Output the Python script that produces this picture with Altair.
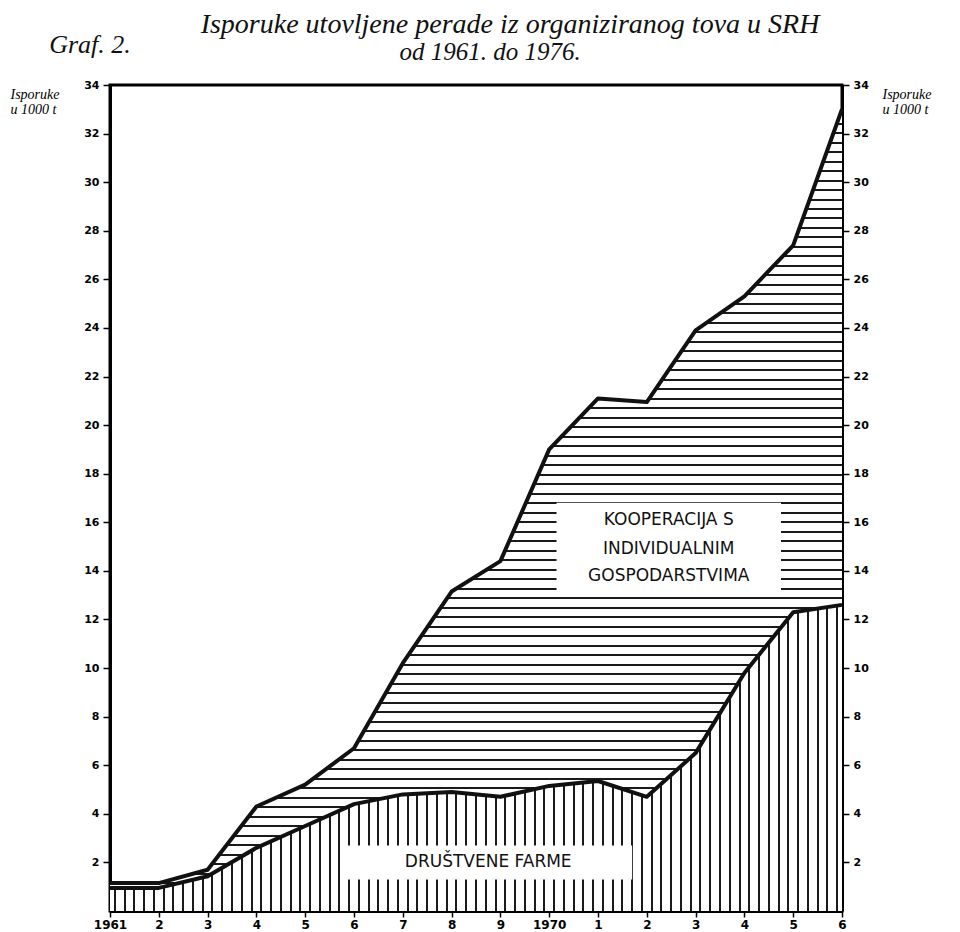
import altair as alt
import pandas as pd

# ---- data ----
years = list(range(1961, 1977))
ukupno = [1.15, 1.15, 1.7, 4.3, 5.2, 6.7, 10.2, 13.15, 14.4, 19.0, 21.1, 20.95, 23.9, 25.3, 27.4, 33.0]
drustvene_farme = [0.95, 0.95, 1.43, 2.6, 3.5, 4.4, 4.8, 4.9, 4.7, 5.15, 5.35, 4.7, 6.5, 9.8, 12.3, 12.6]

y_ticks = list(range(2, 35, 2))

title_lines = ["Isporuke utovljene perade iz organiziranog tova u SRH", "od 1961. do 1976."]
graf_label = "Graf. 2."
y_title = ["Isporuke", "u 1000 t"]

# annotation labels (placed in data units)
koop_lines = ["KOOPERACIJA  S", "INDIVIDUALNIM", "GOSPODARSTVIMA"]
koop_x = [1972.45, 1972.45, 1972.45]
koop_y = [16.1, 14.9, 13.8]
koop_box = dict(x0=1970.15, x1=1974.75, y0=13.2, y1=16.8)

farme_label = "DRUŠTVENE      FARME"
farme_x = 1968.75
farme_y = 2.0
farme_box = dict(x0=1965.8, x1=1971.7, y0=1.3, y1=2.7)

df = pd.DataFrame({"godina": years, "ukupno": ukupno, "farme": drustvene_farme})
box_df = pd.DataFrame([koop_box, farme_box])
koop_df = pd.DataFrame({"x": koop_x, "y": koop_y, "t": koop_lines})
farme_df = pd.DataFrame({"x": [farme_x], "y": [farme_y], "t": [farme_label]})


def stripes(n, frac, along_x):
    stops = [alt.GradientStop(offset=0, color="white")]
    for i in range(n):
        c = (i + 0.5) / n
        a, b = c - frac / 2, c + frac / 2
        stops += [
            alt.GradientStop(offset=round(a, 5), color="white"),
            alt.GradientStop(offset=round(a, 5), color="#1a1a1a"),
            alt.GradientStop(offset=round(b, 5), color="#1a1a1a"),
            alt.GradientStop(offset=round(b, 5), color="white"),
        ]
    stops.append(alt.GradientStop(offset=1, color="white"))
    if along_x:
        return alt.LinearGradient(gradient="linear", stops=stops, x1=0, y1=0, x2=1, y2=0)
    return alt.LinearGradient(gradient="linear", stops=stops, x1=0, y1=0, x2=0, y2=1)


vert_hatch = stripes(75, 2.0 / 732, True)
horiz_hatch = stripes(82, 2.0 / 779, False)

W, H = 732, 826
xs = alt.Scale(domain=[1961, 1976], nice=False, zero=False)
ys = alt.Scale(domain=[0, 34], nice=False, zero=True)

x_axis = alt.Axis(
    values=years,
    labelExpr="(datum.value == 1961 || datum.value == 1970) ? '' + datum.value : '' + (datum.value % 10)",
    tickSize=6, tickWidth=1.5, labelFontSize=12, labelFont="DejaVu Sans", labelFontWeight="bold",
    labelPadding=2, grid=False, domainWidth=3, labelFlush=False, labelColor="black",
)


def y_axis(orient, title_x, align):
    return alt.Axis(
        values=y_ticks, orient=orient, grid=False,
        title=y_title, titleAngle=0, titleX=title_x, titleY=2, titleAlign=align,
        titleBaseline="top", titleFont="Liberation Serif", titleFontStyle="italic",
        titleFontWeight="normal", titleFontSize=14, titleLineHeight=15, titleColor="black",
        labelFont="DejaVu Sans", labelFontWeight="bold", labelFontSize=11, labelColor="black",
        tickSize=7, tickWidth=1.5, labelPadding=4, domainWidth=3,
    )


X = alt.X("godina:Q", scale=xs, title=None, axis=x_axis)

area_farme = alt.Chart(df).mark_area(fill=vert_hatch, interpolate="linear").encode(
    x=X, y=alt.Y("farme:Q", scale=ys, axis=y_axis("left", -100, "left"))
)
area_koop = alt.Chart(df).mark_area(fill=horiz_hatch, interpolate="linear").encode(
    x=X, y=alt.Y("ukupno:Q", scale=ys), y2="farme:Q"
)
boxes = alt.Chart(box_df).mark_rect(fill="white").encode(
    x=alt.X("x0:Q", scale=xs), x2="x1:Q", y=alt.Y("y0:Q", scale=ys), y2="y1:Q"
)
line_farme = alt.Chart(df).mark_line(color="#111", strokeWidth=4, strokeJoin="round").encode(
    x=X, y=alt.Y("farme:Q", scale=ys)
)
line_uk = alt.Chart(df).mark_line(color="#111", strokeWidth=4, strokeJoin="round").encode(
    x=X, y=alt.Y("ukupno:Q", scale=ys)
)
koop_text = alt.Chart(koop_df).mark_text(
    font="DejaVu Sans", fontSize=17, color="#111", align="center", baseline="middle"
).encode(x=alt.X("x:Q", scale=xs), y=alt.Y("y:Q", scale=ys), text="t:N")
farme_text = alt.Chart(farme_df).mark_text(
    font="DejaVu Sans", fontSize=17, color="#111", align="center", baseline="middle"
).encode(x=alt.X("x:Q", scale=xs), y=alt.Y("y:Q", scale=ys), text="t:N")

# header texts, placed relative to the plot's top-left corner
graf_text = alt.Chart(pd.DataFrame({"t": [graf_label]})).mark_text(
    font="Liberation Serif", fontStyle="italic", fontSize=26, color="#111", align="center", baseline="middle"
).encode(x=alt.value(-20), y=alt.value(-40), text="t:N")
title1 = alt.Chart(pd.DataFrame({"t": [title_lines[0]]})).mark_text(
    font="Liberation Serif", fontStyle="italic", fontSize=28, color="#111", align="center", baseline="alphabetic"
).encode(x=alt.value(400), y=alt.value(-52), text="t:N")
title2 = alt.Chart(pd.DataFrame({"t": [title_lines[1]]})).mark_text(
    font="Liberation Serif", fontStyle="italic", fontSize=25, color="#111", align="center", baseline="alphabetic"
).encode(x=alt.value(380), y=alt.value(-25), text="t:N")

left = alt.layer(area_farme, area_koop, boxes, line_farme, line_uk, koop_text, farme_text,
                 graf_text, title1, title2)

right = alt.Chart(df).mark_line(opacity=0).encode(
    x=X, y=alt.Y("ukupno:Q", scale=ys, axis=y_axis("right", 40, "left"))
)

chart = (
    alt.layer(left, right)
    .resolve_scale(y="independent")
    .properties(
        width=W, height=H,
        autosize=alt.AutoSizeParams(type="none"),
        padding={"left": 102, "top": 77, "right": 110, "bottom": 24},
        background="white",
    )
    .configure_view(stroke="black", strokeWidth=3)
    .configure_axis(domainColor="black", tickColor="black")
)

chart.save("out.html", embed_options={"renderer": "svg", "actions": False})
